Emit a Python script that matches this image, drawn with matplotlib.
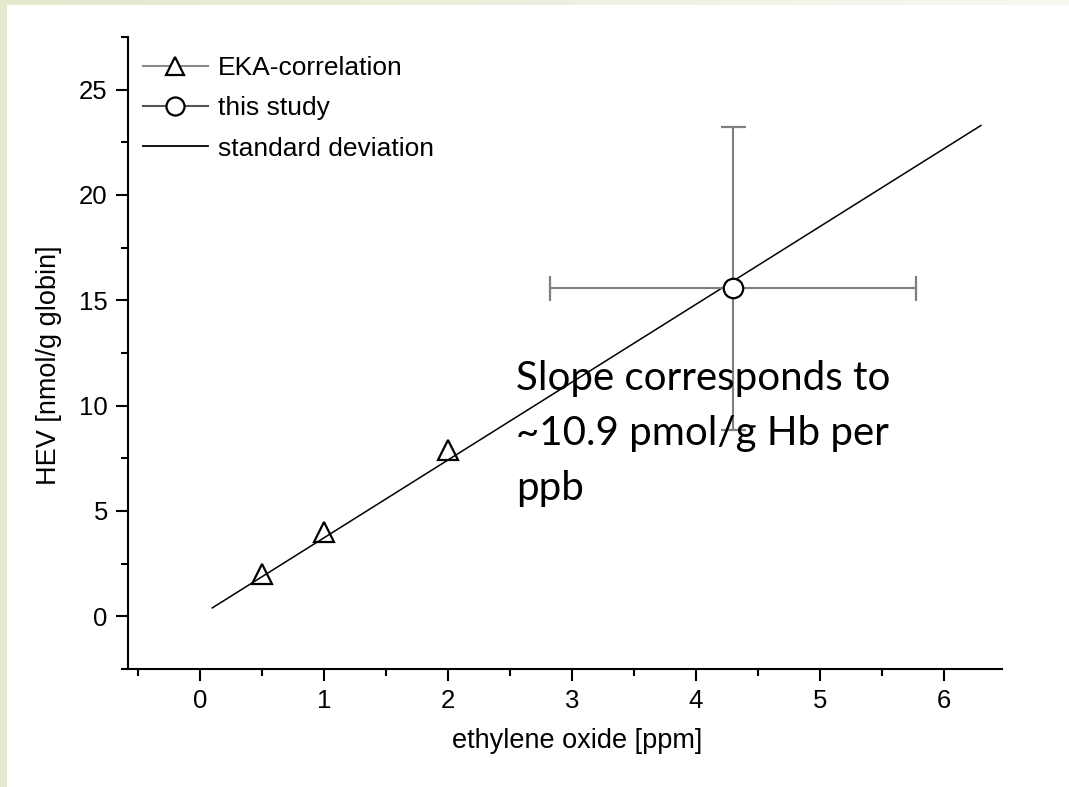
import numpy as np
import matplotlib
matplotlib.use("Agg")
import matplotlib.pyplot as plt
from matplotlib.lines import Line2D
from matplotlib.patches import Rectangle
from matplotlib.ticker import MultipleLocator

# --- data -------------------------------------------------------------
eka_ppm = [0.5, 1.0, 2.0]
eka_hev = [2.0, 4.0, 7.9]

study_ppm = 4.3
study_hev = 15.6
study_ppm_sd = 1.48
study_hev_sd_low = 6.75
study_hev_sd_high = 7.65

fit_ppm = [0.1, 6.3]
fit_hev = [0.4, 23.3]

x_ticks = [0, 1, 2, 3, 4, 5, 6]
y_ticks = [0, 5, 10, 15, 20, 25]

legend_labels = ["EKA-correlation", "this study", "standard deviation"]
note_text = "Slope corresponds to\n~10.9 pmol/g Hb per\nppb"

# --- figure -----------------------------------------------------------
W, H = 1069, 787
plt.rcParams["font.family"] = ["Liberation Sans", "DejaVu Sans"]
fig = plt.figure(figsize=(W / 100, H / 100), dpi=100)
fig.patch.set_facecolor("white")

green = (0.886, 0.914, 0.800)
# left border strip
fig.add_artist(Rectangle((0, 0), 7 / W, 1, transform=fig.transFigure,
                         facecolor=green, edgecolor="none", zorder=0))
# top border strip fading to the right
top_ax = fig.add_axes([0, 1 - 5 / H, 1, 5 / H])
grad = np.linspace(0, 1, 256)
c0 = np.array(green)
c1 = np.array([0.97, 0.972, 0.945])
strip = (c0[None, :] * (1 - grad[:, None]) + c1[None, :] * grad[:, None])[None, :, :]
top_ax.imshow(strip, aspect="auto", extent=[0, 1, 0, 1])
top_ax.axis("off")

ax = fig.add_axes([128 / W, (H - 669) / H, (1002 - 128) / W, (669 - 37) / H])
ax.set_xlim(-0.58, 6.47)
ax.set_ylim(-2.5, 27.5)

# regression line
ax.plot(fit_ppm, fit_hev, color="black", lw=1.1, zorder=2)

# EKA correlation points
ax.plot(eka_ppm, eka_hev, linestyle="none", marker="^", ms=14,
        mfc="none", mec="black", mew=1.6, zorder=3)

# this study with standard deviation
ax.errorbar([study_ppm], [study_hev], xerr=[study_ppm_sd],
            yerr=[[study_hev_sd_low], [study_hev_sd_high]],
            fmt="o", ms=14, mfc="white", mec="black", mew=1.6,
            ecolor="#7f7f7f", elinewidth=1.5, capsize=9, capthick=1.5,
            zorder=4)

# axes styling
for side in ("top", "right"):
    ax.spines[side].set_visible(False)
for side in ("left", "bottom"):
    ax.spines[side].set_linewidth(1.5)
ax.set_xticks(x_ticks)
ax.set_yticks(y_ticks)
ax.xaxis.set_minor_locator(MultipleLocator(0.5))
ax.yaxis.set_minor_locator(MultipleLocator(2.5))
ax.tick_params(which="major", direction="out", length=8.5, width=1.5,
               labelsize=18.5, pad=6)
ax.tick_params(which="minor", direction="out", length=5, width=1.5)

ax.set_xlabel("ethylene oxide [ppm]", fontsize=19.5)
ax.set_ylabel("HEV [nmol/g globin]", fontsize=19.5)
ax.xaxis.set_label_coords(0.514, -0.094)
ax.yaxis.set_label_coords(-0.075, 0.48)

# legend
handles = [
    Line2D([], [], color="#8a8a8a", lw=1.5, marker="^", ms=13,
           mfc="white", mec="black", mew=1.6),
    Line2D([], [], color="#555555", lw=1.5, marker="o", ms=13,
           mfc="white", mec="black", mew=1.6),
    Line2D([], [], color="black", lw=1.3),
]
fig.legend(handles, legend_labels, loc="upper left",
           bbox_to_anchor=(143 / W, 1 - 56 / H), bbox_transform=fig.transFigure,
           frameon=False, fontsize=19, handlelength=2.46, handletextpad=0.38,
           labelspacing=0.62, borderpad=0, borderaxespad=0)

# slope note
fig.text(516 / W, 1 - 360 / H, note_text, ha="left", va="top",
         fontsize=29, family=["Lato", "DejaVu Sans"], weight="normal",
         linespacing=1.6, color="black", zorder=10)

fig.savefig("out.png", dpi=100, facecolor=fig.get_facecolor())
